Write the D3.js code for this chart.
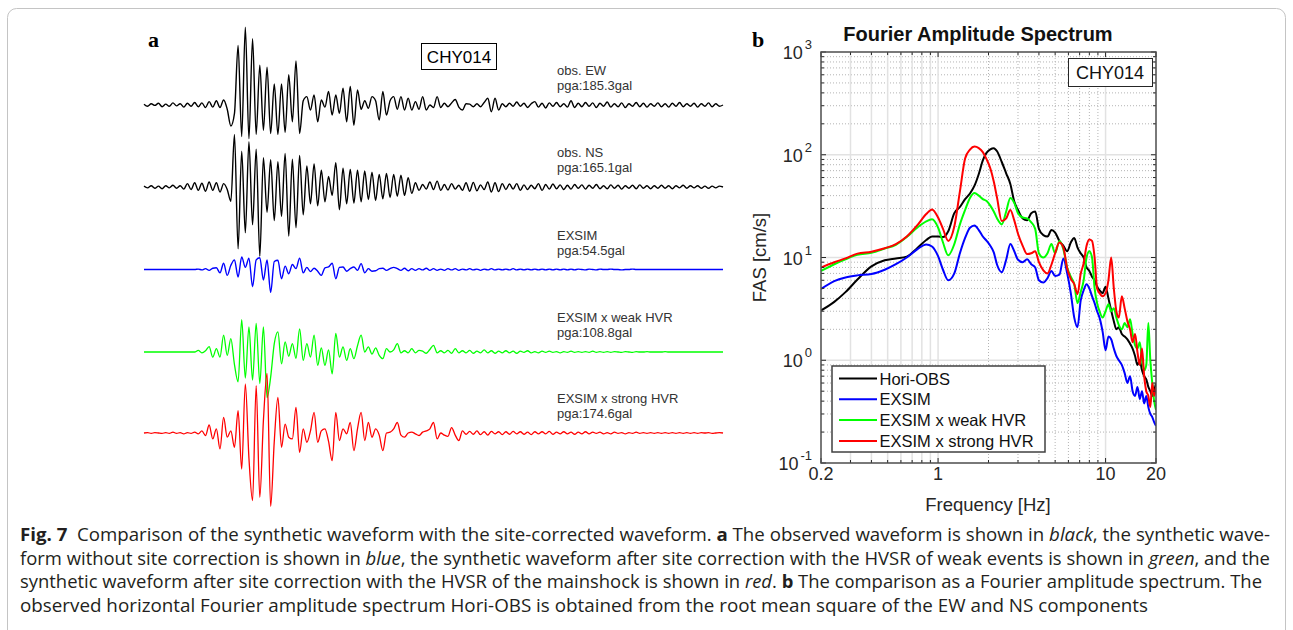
<!DOCTYPE html>
<html>
<head>
<meta charset="utf-8">
<script src="https://cdn.jsdelivr.net/npm/d3@7"></script>
<style>
  body { margin: 0; background: #fff; }
  svg { display: block; }
  text { font-family: "Liberation Sans", Arial, Helvetica, sans-serif; }
</style>
</head>
<body>
<svg id="fig" width="1293" height="630"></svg>
<script>
// ---------- Panel a: acceleration time histories (gal), one sample every 0.5 s ----------
const sampleStep = 0.5;

const accEW = [
  2,-3,3,-1,4,-4,2,-3,5,-2,
  3,-5,4,-3,6,-4,5,-6,8,-5,
  10,-6,12,-10,-50,-20,142,-75,185.3,-80,
  158,-70,95,-60,90,-68,50,-70,50,-65,
  72,-40,105,-68,10,20,-12,24,-40,12,
  -5,32,-24,24,-20,40,-40,44,-48,36,
  -10,10,-8,20,10,-36,32,-24,10,20,
  -10,20,-12,16,-12,8,-10,20,-12,0,
  -6,20,-6,4,-4,5,13,-5,-12,3,
  2,-4,3,-4,6,16,-16,16,-12,3,
  -4,4,-3,7,-3,4,-6,3,8,-5,
  4,-7,5,-3,6,-4,3,-5,10,-6,
  4,-4,6,-3,5,-6,4,-3,7,-5,
  3,-4,5,-6,3,-3,6,-4,4,-5,
  3,-3,5,-4,3,-5,4,-3,6,-4,
  3,-3,4,-5,3,-3,5,-4,3,-3,
  0
];

const accNS = [
  2,-2,3,-3,2,-4,3,-2,4,-3,
  3,-5,8,-6,10,-8,9,-10,12,-8,
  10,-12,8,-6,-34,125,-147,85,-109,108,
  -90,90,-165.1,70,-60,65,-80,60,-70,80,
  -117,66,-97,75,-66,50,-40,55,-45,40,
  -35,25,-20,58,-54,45,-40,42,-38,40,
  -35,38,-30,35,-32,30,-28,32,-25,30,
  -22,28,-20,22,-15,10,-8,6,-5,12,
  -6,14,-8,6,-7,8,-5,4,-8,10,
  -10,11,-9,5,-6,12,-12,10,-11,8,
  -6,7,-5,8,-8,5,-6,4,-4,8,
  -8,6,-5,7,-4,5,-6,4,-5,6,
  -3,5,-5,4,-3,6,-4,3,-4,5,
  -3,4,-5,3,-3,4,-4,5,-3,3,
  -4,3,-3,4,-3,3,-4,3,-2,4,
  -3,3,-2,3,-3,2,-3,2,-2,2,
  0
];

const accExsim = [
  0,0,0,0,0,0,0,0,0,0,
  0,0,0,0,0,1,-1,2,-2,3,
  4,-8,15,-14,10,23,-18,30,5,27,
  -41,23,28,-25,23,-54.5,19,22,-22,8,
  -10,12,2,27,-8,5,-5,3,-4,-14,
  4,6,15,-22,5,6,-4,2,6,-2,
  14,-8,2,-4,-3,2,3,-2,2,5,
  2,-2,3,-3,2,-2,2,-1,3,-2,
  2,-2,1,-2,2,-1,2,-2,1,-1,
  2,-1,1,-2,1,-1,2,-1,1,-1,
  1,-1,2,-1,1,-1,1,-1,1,-1,
  1,-1,1,-1,1,-1,1,-1,1,-1,
  1,0,-1,1,0,-1,1,0,0,1,
  0,0,-1,0,0,1,0,0,0,0,
  0,0,0,0,0,0,0,0,0,0,
  0,0,0,0,0,0,0,0,0,0,
  0
];

const accWeakHvr = [
  0,0,0,0,0,0,0,0,0,0,
  0,0,0,0,0,4,-2,3,13,-12,
  8,-12,40,-8,32,-30,-71,77,-62,60,
  -67,68,-75,60,-108.8,-60,20,48,-28,24,
  -10,20,-15,55,-20,20,-12,40,-32,10,
  -32,5,-52,44,-12,12,-20,8,-16,15,
  40,0,12,-5,10,-8,-16,8,0,5,
  20,-2,3,-2,8,-2,4,2,-3,6,
  16,-2,3,-2,4,-3,8,-2,3,-2,
  4,-3,2,-2,5,-2,3,-3,2,-2,
  3,-2,2,-3,2,-1,3,-2,1,-2,
  2,-1,2,-1,1,-2,1,-1,2,-1,
  1,-1,1,-1,2,-1,1,-1,1,-1,
  1,0,-1,1,0,-1,1,0,0,1,
  0,0,0,0,1,0,0,0,0,0,
  0,0,0,0,0,0,0,0,0,0,
  0
];

const accStrongHvr = [
  0,1,-1,1,0,-1,1,-1,2,-1,
  1,-2,1,-1,2,-2,5,-6,19,-14,
  10,-38,37,-10,5,-34,53,-86,117,-60,
  -161,113,-153,30,142,-174.6,-20,85,-34,21,
  -10,-14,61,-46,10,-22,5,49,-22,5,
  10,-20,-66,49,-18,10,-2,25,-42,10,
  49,-18,25,-10,10,-5,-42,0,2,10,
  25,-5,-10,0,2,-2,-6,2,5,10,
  25,-14,0,-5,-8,13,-5,-18,5,-3,
  4,-3,5,-4,3,-5,4,-2,3,-4,
  3,-3,4,-2,3,-3,2,-4,3,-2,
  3,-2,4,-3,2,-2,3,-2,2,-3,
  2,-2,3,-2,2,-1,2,-2,1,-2,
  2,-1,1,-2,1,-1,2,-1,1,-1,
  1,-1,1,-1,1,-1,1,-1,1,-1,
  1,-1,1,-1,1,0,1,-1,0,1,
  0
];

const traceNames = ["obs. EW", "obs. NS", "EXSIM", "EXSIM x weak HVR", "EXSIM x strong HVR"];

// ---------- Panel b: Fourier amplitude spectra (cm/s) ----------
const freqHz = [
  0.2,0.24,0.28,0.33,0.4,0.48,0.56,0.65,0.75,0.85,
  0.92,1.0,1.07,1.15,1.25,1.35,1.45,1.55,1.65,1.75,
  1.85,1.95,2.05,2.15,2.25,2.4,2.55,2.7,2.85,3.0,
  3.2,3.4,3.6,3.8,4.0,4.25,4.5,4.75,5.0,5.3,
  5.6,5.9,6.2,6.5,6.8,7.1,7.4,7.7,8.0,8.3,
  8.6,8.9,9.2,9.6,10.0,10.4,10.8,11.2,11.6,12.0,
  12.5,13.0,13.5,14.0,14.5,15.0,15.5,16.0,16.5,17.0,
  17.5,18.0,18.5,19.0,19.5,20.0
];

const fasHoriObs = [
  3.05,3.7,4.6,6.1,8.2,9.4,9.8,10.2,12.3,14.8,
  16,16,15.8,18,27,31,37,42,50,65,
  88,105,113,116,108,85,66,52,35,29,
  24,23,27,28,19,16.5,16,18.5,17.5,14.5,
  13,11.5,14,15.5,12.5,11,10,8,7.4,6.5,
  6.0,5.2,4.8,4.5,5.2,4.0,3.05,2.4,2.0,2.1,
  1.8,1.7,1.6,1.45,1.3,1.1,0.9,1.0,0.8,0.7,
  0.65,0.55,0.5,0.45,0.5,0.6
];

const fasExsim = [
  4.94,5.9,6.4,6.7,6.9,7.6,8.6,10,12.0,13.4,
  12.8,10.3,7.6,6.0,7.0,11,15.5,19.5,20.5,18.5,
  16,14.5,13,11.2,8.5,7.2,9.5,13.5,11.5,9.5,
  9.0,9.6,8.6,8.0,6.0,5.7,6.3,7.4,6.6,6.8,
  9.8,7.0,4.5,2.6,2.1,3.8,4.8,5.5,5.0,4.2,
  3.6,3.0,2.6,1.9,1.25,1.7,1.6,1.3,1.1,1.0,
  0.9,0.75,0.6,0.7,0.5,0.45,0.55,0.42,0.5,0.38,
  0.45,0.35,0.3,0.28,0.25,0.23
];

const fasWeakHvr = [
  7.4,8.6,9.6,10.6,11.1,12.2,13.3,15.8,19.5,22.5,
  23.5,19.5,14,10.5,13.5,21,29,38,42.5,40,
  37,35.4,32,28,24,21,28,38,34,27,
  24.5,24,22,19,11,10,11,13.5,11,14.5,
  12,8,6.5,5.5,3.6,4.6,6,10,11.5,10,
  5,3.6,3.0,2.6,3.0,3.5,3.0,3.2,2.6,2.2,
  2.0,2.3,2.1,2.5,1.8,1.4,1.3,1.5,1.0,0.8,
  0.9,2.3,1.0,0.6,0.4,0.33
];

const fasStrongHvr = [
  8.0,9.0,9.8,10.9,11.4,12.3,13.5,16.0,20.5,26.5,
  29.4,24.5,19,14.5,20,44,92,112,120,116,
  106,90,74,55,38,22.6,24,29,23,17,
  13,10.8,11,11.5,9,7.5,7.0,8.5,11,14,
  12.5,7.8,6.2,5.5,4.4,6.9,8.8,13,15,14.5,
  10,5,4.5,4.2,4.5,6,10,5,3.0,2.6,
  4.2,3.2,2.4,2.0,1.5,1.8,1.2,0.9,1.3,0.7,
  0.5,0.45,0.35,0.6,0.45,0.55
];

const legendNames = ["Hori-OBS", "EXSIM", "EXSIM x weak HVR", "EXSIM x strong HVR"];
const xTickValues = [0.2, 1, 10, 20];
const yTickExponents = [-1, 0, 1, 2, 3];

// ---------- drawing ----------
const svg = d3.select("#fig");

// rounded figure frame
svg.append("rect")
  .attr("x", 7.5).attr("y", 8.5).attr("width", 1278).attr("height", 680)
  .attr("rx", 9).attr("fill", "none").attr("stroke", "#c4c4c4").attr("stroke-width", 1);

// ===== panel a =====
const gA = svg.append("g");
gA.append("text").attr("x", 148).attr("y", 47)
  .style("font-family", "'Liberation Serif', 'Times New Roman', serif")
  .style("font-weight", "bold").style("font-size", "22px").text("a");

const tScale = d3.scaleLinear().domain([0, 80]).range([144, 723]);
const galPx = d3.scaleLinear().domain([0, 100]).range([0, 42]);

const traces = [
  { name: traceNames[0], values: accEW, color: "#000000", width: 1.4, base: 105 },
  { name: traceNames[1], values: accNS, color: "#000000", width: 1.4, base: 187 },
  { name: traceNames[2], values: accExsim, color: "#0000ff", width: 1.4, base: 269.5 },
  { name: traceNames[3], values: accWeakHvr, color: "#00ff00", width: 1.3, base: 352 },
  { name: traceNames[4], values: accStrongHvr, color: "#ff0000", width: 1.3, base: 433 }
];

traces.forEach(tr => {
  const line = d3.line()
    .x((d, i) => tScale(i * sampleStep))
    .y(d => tr.base - galPx(d))
    .curve(d3.curveMonotoneX);
  gA.append("path").datum(tr.values)
    .attr("d", line).attr("fill", "none")
    .attr("stroke", tr.color).attr("stroke-width", tr.width)
    .attr("stroke-linejoin", "round");
  const pga = d3.max(tr.values, v => Math.abs(v));
  const lab = gA.append("text").attr("x", 557).style("font-size", "13px").attr("fill", "#333");
  lab.append("tspan").attr("x", 557).attr("y", tr.base - 30).text(tr.name);
  lab.append("tspan").attr("x", 557).attr("y", tr.base - 15).text(`pga:${pga.toFixed(1)}gal`);
});

// station box, panel a
gA.append("rect").attr("x", 421.5).attr("y", 43.5).attr("width", 75).attr("height", 26)
  .attr("fill", "#fff").attr("stroke", "#000").attr("stroke-width", 1);
gA.append("text").attr("x", 459).attr("y", 63).attr("text-anchor", "middle")
  .style("font-size", "17px").text("CHY014");

// ===== panel b =====
const gB = svg.append("g");
const L = 821, R = 1156, T = 52, B = 463;
const fx = d3.scaleLog().domain([0.2, 20]).range([L, R]);
const fy = d3.scaleLog().domain([0.1, 1000]).range([B, T]);

gB.append("text").attr("x", 752).attr("y", 47)
  .style("font-family", "'Liberation Serif', 'Times New Roman', serif")
  .style("font-weight", "bold").style("font-size", "22px").text("b");

gB.append("text").attr("x", 978).attr("y", 41).attr("text-anchor", "middle")
  .style("font-size", "20px").style("font-weight", "bold").attr("fill", "#111")
  .text("Fourier Amplitude Spectrum");

gB.append("rect").attr("x", L).attr("y", T).attr("width", R - L).attr("height", B - T).attr("fill", "#fff");

// grid
const solidX = [0.3,0.4,0.5,0.6,0.7,0.8,0.9,1,10];
const dottedX = [2,3,4,5,6,7,8,9];
const solidY = [1, 10, 100];
const dottedY = [];
[-1, 0, 1, 2].forEach(e => { for (let k = 2; k <= 9; k++) dottedY.push(k * Math.pow(10, e)); });

const grid = gB.append("g");
grid.selectAll(".gdy").data(dottedY).join("line")
  .attr("x1", L).attr("x2", R).attr("y1", d => fy(d)).attr("y2", d => fy(d))
  .attr("stroke", "#b4b4b4").attr("stroke-width", 1).attr("stroke-dasharray", "1,2");
grid.selectAll(".gdx").data(dottedX).join("line")
  .attr("y1", T).attr("y2", B).attr("x1", d => fx(d)).attr("x2", d => fx(d))
  .attr("stroke", "#b4b4b4").attr("stroke-width", 1).attr("stroke-dasharray", "1,2");
grid.selectAll(".gsx").data(solidX).join("line")
  .attr("y1", T).attr("y2", B).attr("x1", d => fx(d)).attr("x2", d => fx(d))
  .attr("stroke", "#e2e2e2").attr("stroke-width", 1.5);
grid.selectAll(".gsy").data(solidY).join("line")
  .attr("x1", L).attr("x2", R).attr("y1", d => fy(d)).attr("y2", d => fy(d))
  .attr("stroke", "#e2e2e2").attr("stroke-width", 1.5);

// spectra
const specs = [
  { vals: fasHoriObs, color: "#000000" },
  { vals: fasExsim, color: "#0000ff" },
  { vals: fasWeakHvr, color: "#00ff00" },
  { vals: fasStrongHvr, color: "#ff0000" }
];
const specLine = d3.line().x(d => fx(d[0])).y(d => fy(d[1])).curve(d3.curveMonotoneX);
const clip = gB.append("clipPath").attr("id", "plotclip");
clip.append("rect").attr("x", L).attr("y", T).attr("width", R - L).attr("height", B - T);
const curves = gB.append("g").attr("clip-path", "url(#plotclip)");
specs.forEach(s => {
  curves.append("path").datum(freqHz.map((f, i) => [f, s.vals[i]]))
    .attr("d", specLine).attr("fill", "none")
    .attr("stroke", s.color).attr("stroke-width", 2).attr("stroke-linejoin", "round");
});

// ticks (inward, all four sides)
const axisColor = "#262626";
const minorX = [0.3,0.4,0.5,0.6,0.7,0.8,0.9,2,3,4,5,6,7,8,9];
const tickG = gB.append("g").attr("stroke", axisColor).attr("stroke-width", 1);
xTickValues.concat(minorX).forEach((v, i) => {
  const len = i < xTickValues.length ? 5 : 3;
  tickG.append("line").attr("x1", fx(v)).attr("x2", fx(v)).attr("y1", B).attr("y2", B - len);
  tickG.append("line").attr("x1", fx(v)).attr("x2", fx(v)).attr("y1", T).attr("y2", T + len);
});
yTickExponents.map(e => Math.pow(10, e)).concat(dottedY).forEach((v, i) => {
  const len = i < yTickExponents.length ? 5 : 3;
  tickG.append("line").attr("y1", fy(v)).attr("y2", fy(v)).attr("x1", L).attr("x2", L + len);
  tickG.append("line").attr("y1", fy(v)).attr("y2", fy(v)).attr("x1", R).attr("x2", R - len);
});

// axes box
gB.append("rect").attr("x", L).attr("y", T).attr("width", R - L).attr("height", B - T)
  .attr("fill", "none").attr("stroke", "#4d4d4d").attr("stroke-width", 1.5);

// tick labels
gB.selectAll(".xtl").data(xTickValues).join("text")
  .attr("x", d => fx(d)).attr("y", 480).attr("text-anchor", "middle")
  .style("font-size", "18px").attr("fill", axisColor).text(d => String(d));

yTickExponents.forEach(e => {
  const t = gB.append("text").attr("x", 812).attr("y", fy(Math.pow(10, e)) + 7)
    .attr("text-anchor", "end").attr("fill", axisColor).style("font-size", "18px");
  t.append("tspan").text("10");
  t.append("tspan").attr("dx", 2).attr("dy", -10).style("font-size", "13px").text(String(e));
});

gB.append("text").attr("x", 988).attr("y", 511).attr("text-anchor", "middle")
  .style("font-size", "18.5px").attr("fill", axisColor).text("Frequency [Hz]");
gB.append("text").attr("transform", `translate(766,${(T + B) / 2}) rotate(-90)`)
  .attr("text-anchor", "middle").style("font-size", "18.5px").attr("fill", axisColor)
  .text("FAS [cm/s]");

// station box, panel b
gB.append("rect").attr("x", 1068.5).attr("y", 58.5).attr("width", 84).attr("height", 28)
  .attr("fill", "#fff").attr("stroke", axisColor).attr("stroke-width", 1);
gB.append("text").attr("x", 1110).attr("y", 79).attr("text-anchor", "middle")
  .style("font-size", "18px").attr("fill", "#111").text("CHY014");

// legend
const lg = gB.append("g");
lg.append("rect").attr("x", 832).attr("y", 366).attr("width", 213).attr("height", 86)
  .attr("fill", "#fff").attr("stroke", "#404040").attr("stroke-width", 1.5);
legendNames.forEach((name, i) => {
  const y = 378.5 + i * 20.8;
  lg.append("line").attr("x1", 839).attr("x2", 877).attr("y1", y).attr("y2", y)
    .attr("stroke", specs[i].color).attr("stroke-width", 2);
  lg.append("text").attr("x", 879.5).attr("y", y + 6).style("font-size", "16.5px")
    .attr("fill", "#111").text(name);
});

// ===== caption =====
const captionLines = [
  { w: 1250, parts: [["Fig. 7", "b"], ["  Comparison of the synthetic waveform with the site-corrected waveform. ", ""], ["a", "b"], [" The observed waveform is shown in ", ""], ["black", "i"], [", the synthetic wave-", ""]] },
  { w: 1250, parts: [["form without site correction is shown in ", ""], ["blue", "i"], [", the synthetic waveform after site correction with the HVSR of weak events is shown in ", ""], ["green", "i"], [", and the", ""]] },
  { w: 1242, parts: [["synthetic waveform after site correction with the HVSR of the mainshock is shown in ", ""], ["red", "i"], [". ", ""], ["b", "b"], [" The comparison as a Fourier amplitude spectrum. The", ""]] },
  { w: 1128, parts: [["observed horizontal Fourier amplitude spectrum Hori-OBS is obtained from the root mean square of the EW and NS components", ""]] }
];
const cap = svg.append("g").attr("fill", "#231f20");
captionLines.forEach((ln, i) => {
  const t = cap.append("text").attr("x", 20).attr("y", 541 + i * 23.6)
    .attr("textLength", ln.w).attr("lengthAdjust", "spacingAndGlyphs")
    .style("font-size", "18px").style("white-space", "pre")
    .style("font-family", "'Liberation Sans Narrow', 'Open Sans', 'Liberation Sans', sans-serif");
  ln.parts.forEach(([s, st]) => {
    const sp = t.append("tspan").text(s);
    if (st === "b") sp.style("font-weight", "bold");
    if (st === "i") sp.style("font-style", "italic");
  });
});
</script>
</body>
</html>
